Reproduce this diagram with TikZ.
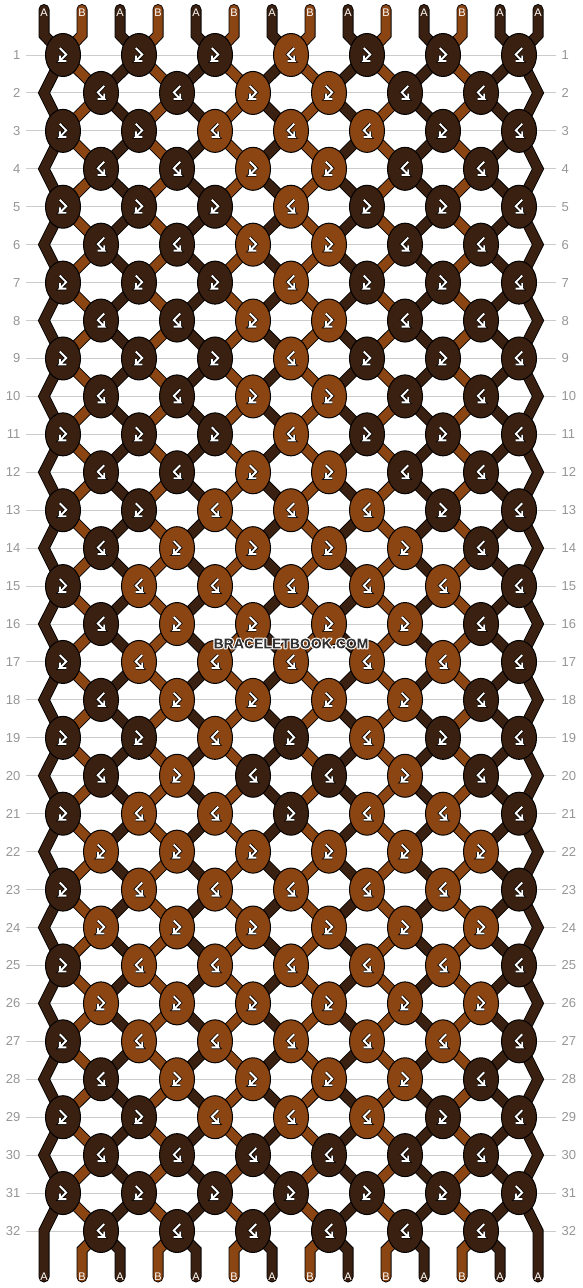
\documentclass[tikz,border=0pt]{standalone}
\usepackage{fontspec}
\setmainfont{Liberation Sans}
\usetikzlibrary{shapes.geometric}
\definecolor{cA}{RGB}{58,32,16}
\definecolor{cB}{RGB}{139,69,19}
\definecolor{gridc}{RGB}{204,204,204}
\definecolor{labc}{RGB}{150,150,150}
\definecolor{wmc}{RGB}{50,50,50}
\pgfdeclarelayer{gridlayer}
\pgfdeclarelayer{strandlayer}
\pgfsetlayers{gridlayer,strandlayer,main}
\newcommand\glyL{%
  \draw[glyphout] (-3.2,-7) -- (3.2,-0.5) -- (-3.2,6) -- (3.4,6) (-3.2,0.6) -- (-3.2,6);
  \draw[glyphin] (-3.2,-7) -- (3.2,-0.5) -- (-3.2,6) -- (3.4,6) (-3.2,0.6) -- (-3.2,6);}
\newcommand\glyR{%
  \draw[glyphout] (3.2,-7) -- (-3.2,-0.5) -- (3.2,6) -- (-3.4,6) (3.2,0.6) -- (3.2,6);
  \draw[glyphin] (3.2,-7) -- (-3.2,-0.5) -- (3.2,6) -- (-3.4,6) (3.2,0.6) -- (3.2,6);}
\begin{document}
\begin{tikzpicture}[x=1pt,y=-1pt,
  knotbox/.style={ellipse,draw=black,line width=1pt,minimum width=35pt,minimum height=43pt,inner sep=0pt,outer sep=0pt},
  f-o-A/.style={fill=cA}, f-o-B/.style={fill=cB}, f-o-L/.style={fill=cA}, f-o-R/.style={fill=cA},
  f-e-A/.style={fill=cA}, f-e-B/.style={fill=cB},
  glyphout/.style={draw=black,line width=3.4pt,line join=miter},
  glyphin/.style={draw=white,line width=1.9pt,line join=miter},
  g-o-A/.pic={\glyL}, g-o-B/.pic={\glyR}, g-o-L/.pic={\glyL}, g-o-R/.pic={\glyR},
  g-e-A/.pic={\glyR}, g-e-B/.pic={\glyL},
  gridline/.style={draw=gridc,line width=1pt},
  rowlab/.style={text=labc,font=\fontsize{13}{13}\selectfont,inner sep=0pt},
  endlab/.style={text=white,font=\fontsize{11}{11}\selectfont,inner sep=0pt},
  wm/.style={text=wmc,font=\fontsize{14}{14}\selectfont\bfseries,inner sep=0pt}
]
\useasboundingbox (0,0) rectangle (582,1288);
\begin{pgfonlayer}{gridlayer}
  \fill[white] (0,0) rectangle (582,1288);
  \foreach \r in {1,...,32} {
    \pgfmathsetmacro\yy{55+37.935*(\r-1)}
    \draw[gridline] (26,\yy) -- (556,\yy);
  }
\end{pgfonlayer}
% row labels
\foreach \r in {1,...,32} {
  \pgfmathsetmacro\yy{55+37.935*(\r-1)}
  \node[rowlab,anchor=east] (ll-\r) at (20.5,\yy) {\r};
  \node[rowlab,anchor=west] (rl-\r) at (561.5,\yy) {\r};
}
% odd rows
\foreach \r/\cols in {1/{A,A,A,B,A,A,R},3/{A,A,B,B,B,A,R},5/{A,A,A,B,A,A,R},7/{A,A,A,B,A,A,R},
  9/{A,A,A,B,A,A,R},11/{A,A,A,B,A,A,R},13/{A,A,B,B,B,A,R},15/{A,B,B,B,B,B,R},
  17/{A,B,B,B,B,B,R},19/{A,A,B,A,B,A,R},21/{A,B,B,A,B,B,R},23/{A,B,B,B,B,B,R},
  25/{A,B,B,B,B,B,R},27/{A,B,B,B,B,B,R},29/{A,A,B,B,B,A,R},31/{A,A,A,A,A,A,L}} {
  \pgfmathsetmacro\yy{55+37.935*(\r-1)}
  \foreach \v [count=\c] in \cols {
    \pgfmathsetmacro\xx{63+76*(\c-1)}
    \node[knotbox,f-o-\v] (k-\r-\c) at (\xx,\yy) {};
    \pic at (k-\r-\c) {g-o-\v};
  }
}
% even rows
\foreach \r/\cols in {2/{A,A,B,B,A,A},4/{A,A,B,B,A,A},6/{A,A,B,B,A,A},8/{A,A,B,B,A,A},
  10/{A,A,B,B,A,A},12/{A,A,B,B,A,A},14/{A,B,B,B,B,A},16/{A,B,B,B,B,A},
  18/{A,B,B,B,B,A},20/{A,B,A,A,B,A},22/{B,B,B,B,B,B},24/{B,B,B,B,B,B},
  26/{B,B,B,B,B,B},28/{A,B,B,B,B,A},30/{A,A,A,A,A,A},32/{A,A,A,A,A,A}} {
  \pgfmathsetmacro\yy{55+37.935*(\r-1)}
  \coordinate (k-\r-0) at (44,\yy);
  \coordinate (k-\r-7) at (538,\yy);
  \foreach \v [count=\c] in \cols {
    \pgfmathsetmacro\xx{101+76*(\c-1)}
    \node[knotbox,f-e-\v] (k-\r-\c) at (\xx,\yy) {};
    \pic at (k-\r-\c) {g-e-\v};
  }
}
% strand ends and labels
\foreach \j/\cl in {1/A,2/B,3/A,4/B,5/A,6/B,7/A,8/B,9/A,10/B,11/A,12/B,13/A,14/A} {
  \pgfmathsetmacro\xj{44+38*(\j-1)}
  \coordinate (t-\j) at (\xj,9.5);
  \coordinate (tb-\j) at (\xj,35);
  \coordinate (bb-\j) at (\xj,1250);
  \coordinate (b-\j) at (\xj,1277);
  \node[endlab] (tl-\j) at (\xj,12.5) {\cl};
  \node[endlab] (bl-\j) at (\xj,1276.5) {\cl};
}
% strands
\begin{pgfonlayer}{strandlayer}
\foreach \j/\cl in {1/A,2/B,3/A,4/B,5/A,6/B,7/A,8/B,9/A,10/B,11/A,12/B,13/A,14/A} {
  \foreach \ww/\cc in {11/black,9.2/c\cl} {
    \draw[line width=\ww pt,draw=\cc,line cap=round,line join=miter]
      (t-\j) -- (tb-\j)
      \foreach \r [evaluate=\r as \c using int(floor((\j+\r-2*floor(\r/2))/2))] in {1,...,32} { -- (k-\r-\c.center) }
      -- (bb-\j) -- (b-\j);
  }
}
\end{pgfonlayer}
% watermark: white halo by stroking, interior restored through glyph clip
\node[wm] (wm) at (291,643.5) {\special{pdf:code q 1 1 1 RG 2.2 w 1 j 6 Tr}BRACELETBOOK.COM\special{pdf:code 0 Tr 0.196 0.196 0.196 rg -5000 -5000 10000 10000 re f Q}};
\end{tikzpicture}
\end{document}
